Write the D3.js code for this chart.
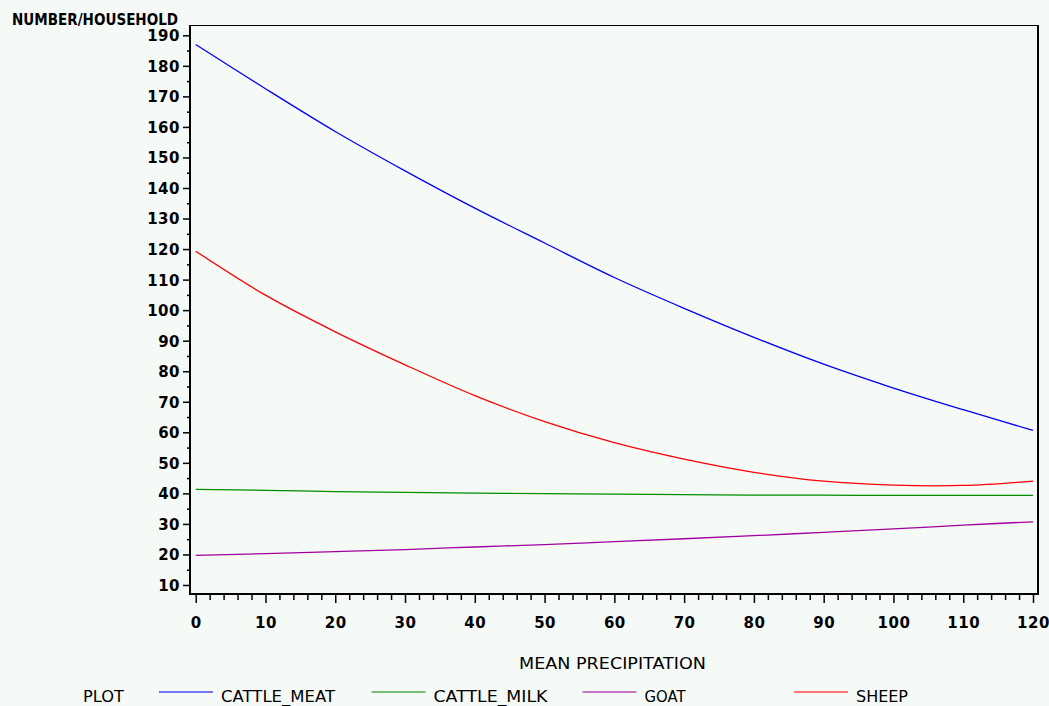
<!DOCTYPE html>
<html>
<head>
<meta charset="utf-8">
<script src="https://cdn.jsdelivr.net/npm/d3@7"></script>
<style>
  html, body { margin: 0; padding: 0; background: #f6faf7; }
  svg { display: block; }
</style>
</head>
<body>
<svg id="chart" width="1049" height="706"></svg>
<script>
// ---- data ----
const precipitation = [0, 10, 20, 30, 40, 50, 60, 70, 80, 90, 100, 110, 120];
const cattleMeat = [187.0, 172.5, 158.5, 145.6, 133.4, 122.0, 110.7, 100.6, 91.1, 82.3, 74.5, 67.4, 60.6];
const cattleMilk = [41.3, 41.0, 40.6, 40.3, 40.1, 39.9, 39.75, 39.6, 39.45, 39.4, 39.35, 39.35, 39.35];
const goat = [19.7, 20.3, 20.95, 21.6, 22.45, 23.25, 24.2, 25.15, 26.15, 27.25, 28.35, 29.6, 30.7];
const sheep = [119.3, 104.9, 92.9, 82.1, 72.0, 63.5, 56.6, 51.2, 46.9, 44.0, 42.7, 42.6, 44.0];
const seriesNames = ["CATTLE_MEAT", "CATTLE_MILK", "GOAT", "SHEEP"];
const seriesColors = ["#0000ff", "#008c00", "#a000a0", "#ff0000"];
const xTickValues = [0, 10, 20, 30, 40, 50, 60, 70, 80, 90, 100, 110, 120];
const yTickValues = [10, 20, 30, 40, 50, 60, 70, 80, 90, 100, 110, 120, 130, 140, 150, 160, 170, 180, 190];
const yTitle = "NUMBER/HOUSEHOLD";
const xTitle = "MEAN PRECIPITATION";
const legendTitle = "PLOT";

const seriesValues = [cattleMeat, cattleMilk, goat, sheep];

// ---- layout ----
const svg = d3.select("#chart");
const frame = { left: 190, right: 1038, top: 25, bottom: 594 };
const x = d3.scaleLinear().domain([0, 120]).range([195.7, 1033]);
const y = d3.scaleLinear().domain([10, 190]).range([585, 35.3]);

svg.append("rect").attr("x", 0).attr("y", 0).attr("width", 1049).attr("height", 706).attr("fill", "#f6faf7");

// frame
const fr = svg.append("g").attr("stroke", "#000");
fr.append("line").attr("x1", frame.left).attr("x2", frame.right).attr("y1", frame.top + 0.5).attr("y2", frame.top + 0.5).attr("stroke-width", 1);
fr.append("line").attr("x1", frame.left).attr("x2", frame.left).attr("y1", frame.top).attr("y2", frame.bottom + 1).attr("stroke-width", 2);
fr.append("line").attr("x1", frame.right).attr("x2", frame.right).attr("y1", frame.top).attr("y2", frame.bottom + 1).attr("stroke-width", 2);
fr.append("line").attr("x1", frame.left - 1).attr("x2", frame.right + 1).attr("y1", frame.bottom).attr("y2", frame.bottom).attr("stroke-width", 2);

const tickFont = "'DejaVu Sans', sans-serif";

// y axis minor
const yMinor = d3.range(10, 191, 5).filter(v => v % 10 !== 0);
svg.append("g").attr("transform", `translate(${frame.left},0)`)
  .call(d3.axisLeft(y).tickValues(yMinor).tickSize(3).tickFormat(""))
  .call(g => g.select(".domain").remove())
  .call(g => g.selectAll("line").attr("stroke", "#000").attr("stroke-width", 1.5));
// y axis major
svg.append("g").attr("transform", `translate(${frame.left},0)`)
  .call(d3.axisLeft(y).tickValues(yTickValues).tickSize(7).tickPadding(3).tickFormat(d3.format("d")))
  .call(g => g.select(".domain").remove())
  .call(g => g.selectAll("line").attr("stroke", "#000").attr("stroke-width", 1.5))
  .call(g => g.selectAll("text").attr("fill", "#000").attr("font-family", tickFont)
      .attr("font-weight", "bold").attr("font-size", 15).attr("letter-spacing", 0.5).attr("dy", "0.36em"));

// x axis minor
const xMinor = d3.range(0, 121, 2).filter(v => v % 10 !== 0);
svg.append("g").attr("transform", `translate(0,${frame.bottom + 1})`)
  .call(d3.axisBottom(x).tickValues(xMinor).tickSize(5).tickFormat(""))
  .call(g => g.select(".domain").remove())
  .call(g => g.selectAll("line").attr("stroke", "#000").attr("stroke-width", 1.5));
// x axis major
svg.append("g").attr("transform", `translate(0,${frame.bottom + 1})`)
  .call(d3.axisBottom(x).tickValues(xTickValues).tickSize(8).tickPadding(14).tickFormat(d3.format("d")))
  .call(g => g.select(".domain").remove())
  .call(g => g.selectAll("line").attr("stroke", "#000").attr("stroke-width", 1.5))
  .call(g => g.selectAll("text").attr("fill", "#000").attr("font-family", tickFont)
      .attr("font-weight", "bold").attr("font-size", 15).attr("letter-spacing", 0.5));

// lines
const line = d3.line().x((d, i) => x(precipitation[i])).y(d => y(d)).curve(d3.curveCatmullRom.alpha(0.5));
svg.append("g").selectAll("path").data(seriesValues).join("path")
  .attr("d", d => line(d))
  .attr("fill", "none")
  .attr("stroke", (d, i) => seriesColors[i])
  .attr("stroke-width", 1.3);

// titles
svg.append("text").attr("x", 12).attr("y", 25).text(yTitle)
  .attr("font-family", tickFont).attr("font-weight", "bold").attr("font-size", 15)
  .attr("textLength", 166).attr("lengthAdjust", "spacingAndGlyphs").attr("fill", "#000");

const labelFont = "'DejaVu Sans', sans-serif";
svg.append("text").attr("x", 519).attr("y", 668.5).text(xTitle)
  .attr("font-family", labelFont).attr("font-size", 15)
  .attr("textLength", 187).attr("lengthAdjust", "spacingAndGlyphs").attr("fill", "#000");

// legend
const legendY = 701.5;
svg.append("text").attr("x", 83).attr("y", legendY).text(legendTitle)
  .attr("font-family", labelFont).attr("font-size", 15)
  .attr("textLength", 41).attr("lengthAdjust", "spacingAndGlyphs").attr("fill", "#000");
const legendX = [159, 371.5, 582.5, 794];
const labelWidths = [114, 114, 41, 52];
const lg = svg.append("g").selectAll("g").data(seriesNames).join("g");
lg.append("line")
  .attr("x1", (d, i) => legendX[i]).attr("x2", (d, i) => legendX[i] + 54)
  .attr("y1", 692).attr("y2", 692)
  .attr("stroke", (d, i) => seriesColors[i]).attr("stroke-width", 1.5).attr("stroke-opacity", 0.7);
lg.append("text")
  .attr("x", (d, i) => legendX[i] + 62).attr("y", legendY)
  .text(d => d)
  .attr("font-family", labelFont).attr("font-size", 15)
  .attr("textLength", (d, i) => labelWidths[i]).attr("lengthAdjust", "spacingAndGlyphs")
  .attr("fill", "#000");
</script>
</body>
</html>
